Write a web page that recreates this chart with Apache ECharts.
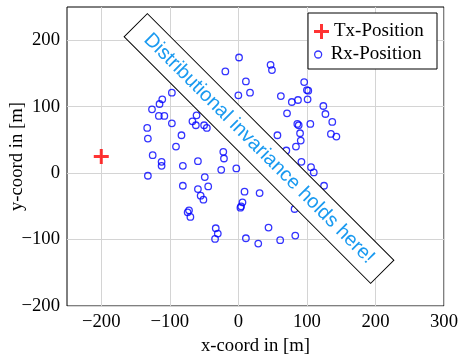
<!DOCTYPE html>
<html>
<head>
<meta charset="utf-8">
<script src="https://cdn.jsdelivr.net/npm/echarts@6/dist/echarts.min.js"></script>
<style>
html, body { margin: 0; padding: 0; background: #fff; }
#chart { width: 461px; height: 357px; }
</style>
</head>
<body>
<div id="chart"></div>
<script>
// transmitter
const txX = [-200]
const txY = [25]

// receivers
const rxX = [1, -19, -97, -111, -115, -126, -116, -108, -97, -67,
  -61, -62, -50, -46, -133, -132, -83, -91, -125, -112,
  -112, -81, -59, -22, -21, -25, -3, -132, -49, -81,
  -44, -59, -55, -51, -72, -74, -70, -33, -30, -34,
  47, 49, 11, 0, 17, 62, 78, 87, 96, 100,
  102, 101, 124, 127, 137, 135, 143, 71, 86, 88,
  105, 90, 91, 84, 57, 70, 92, 106, 110, 125,
  9, 31, 6, 4, 3, 82, 44, 11, 29, 61,
  83]
const rxY = [174, 153, 121, 111, 104, 96, 86, 86, 75, 78,
  87, 72, 72, 68, 68, 52, 57, 40, 27, 17,
  11, 11, 18, 32, 22, 5, 7, -4, -6, -19,
  -20, -24, -34, -40, -56, -59, -66, -83, -91, -99,
  163, 155, 138, 117, 121, 116, 107, 110, 137, 125,
  124, 111, 101, 89, 77, 59, 55, 90, 74, 72,
  74, 60, 49, 40, 57, 34, 17, 9, 1, -19,
  -28, -30, -44, -50, -52, -54, -82, -98, -106, -101,
  -94]

const xTicks = [-200, -100, 0, 100, 200, 300]
const yTicks = [-200, -100, 0, 100, 200]

const serif = 'Liberation Serif'
const plus = 'path://M4,0H6V4H10V6H6V10H4V6H0V4H4Z'
const minus = v => String(v).replace('-', '\u2212')

const chart = echarts.init(document.getElementById('chart'))
chart.setOption({
  animation: false,
  backgroundColor: '#fff',
  grid: {
    left: 67, right: 17, top: 7, bottom: 51,
    outerBoundsMode: 'none',
    show: true, borderColor: '#000', borderWidth: 1
  },
  xAxis: {
    type: 'value', min: -250, max: 300,
    name: 'x-coord in [m]', nameLocation: 'middle', nameGap: 31,
    nameMoveOverlap: false,
    nameTextStyle: { fontFamily: serif, fontSize: 18.7, color: '#000' },
    axisLine: { show: false },
    axisTick: { show: false, customValues: xTicks },
    axisLabel: { customValues: xTicks, formatter: minus, margin: 7,
      fontFamily: serif, fontSize: 18.7, color: '#000' },
    splitLine: { show: true, lineStyle: { color: '#d4d4d4', width: 1 } }
  },
  yAxis: {
    type: 'value', min: -200, max: 250,
    name: 'y-coord in [m]', nameLocation: 'middle', nameGap: 40,
    nameMoveOverlap: false,
    nameTextStyle: { fontFamily: serif, fontSize: 18.7, color: '#000' },
    axisLine: { show: false },
    axisTick: { show: false, customValues: yTicks },
    axisLabel: { customValues: yTicks, formatter: minus, margin: 7,
      fontFamily: serif, fontSize: 18.7, color: '#000' },
    splitLine: { show: true, lineStyle: { color: '#d4d4d4', width: 1 } }
  },
  legend: [
    {
      data: [{ name: 'Tx-Position', icon: plus }],
      left: 314, top: 22, padding: 0,
      itemWidth: 15, itemHeight: 15,
      textStyle: { fontFamily: serif, fontSize: 19, color: '#000' }
    },
    {
      data: [{ name: 'Rx-Position', icon: 'circle' }],
      left: 314, top: 45, padding: 0,
      itemWidth: 15, itemHeight: 7,
      itemStyle: { color: 'rgba(0,0,0,0)', borderColor: '#0000ff', borderWidth: 1.3 },
      textStyle: { fontFamily: serif, fontSize: 19, color: '#000' }
    }
  ],
  graphic: [
    {
      type: 'rect', z: 3,
      shape: { x: 308, y: 13, width: 129, height: 56 },
      style: { fill: '#fff', stroke: '#000', lineWidth: 1 }
    },
    {
      type: 'group', x: 259, y: 148.5, rotation: -Math.PI / 4, z: 10,
      children: [
        {
          type: 'rect', z: 10,
          shape: { x: -174.3, y: -16.4, width: 348.6, height: 32.8 },
          style: { fill: '#fff', stroke: '#000', lineWidth: 1 }
        },
        {
          type: 'text', z: 11, x: 0, y: 0,
          style: {
            text: 'Distributional invariance holds here!',
            fontFamily: 'Liberation Sans', fontSize: 20,
            fill: '#1a9af0', align: 'center', verticalAlign: 'middle'
          }
        }
      ]
    }
  ],
  series: [
    {
      name: 'Tx-Position', type: 'scatter',
      data: txX.map((x, i) => [x, txY[i]]),
      symbol: plus, symbolSize: 15,
      itemStyle: { color: '#ff0000' }
    },
    {
      name: 'Rx-Position', type: 'scatter',
      data: rxX.map((x, i) => [x, rxY[i]]),
      symbol: 'circle', symbolSize: 6.5,
      itemStyle: { color: 'rgba(0,0,0,0)', borderColor: '#0000ff', borderWidth: 1.3 }
    }
  ]
})
</script>
</body>
</html>
